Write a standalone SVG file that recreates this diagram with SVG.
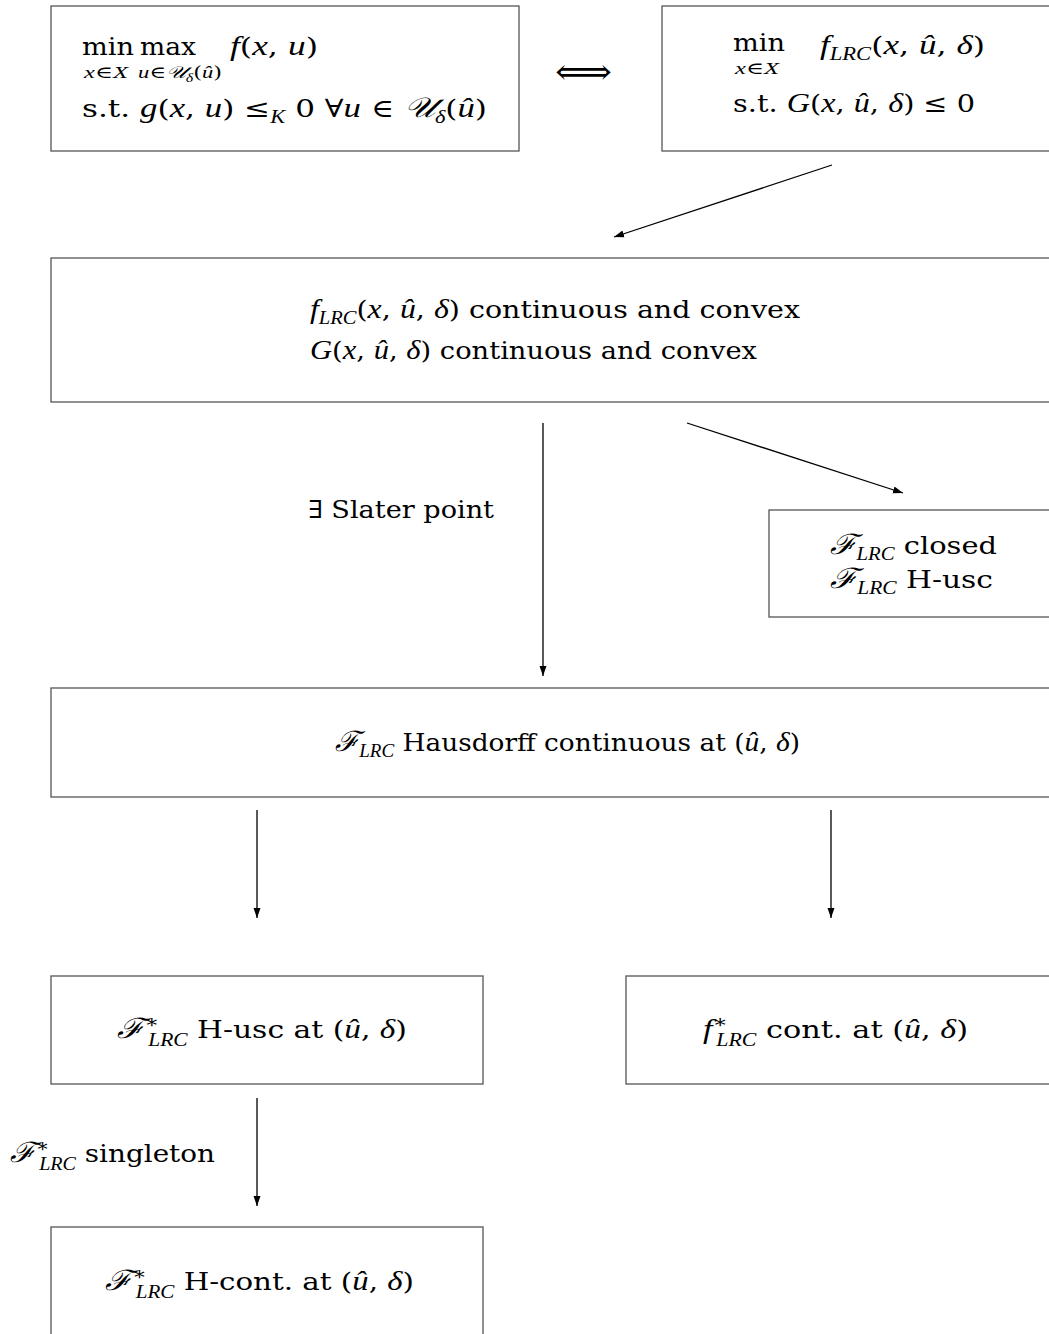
<svg xmlns="http://www.w3.org/2000/svg" width="1049" height="1334" viewBox="0 0 1049 1334">
<style>
.box{fill:#fff;stroke:#555;stroke-width:1.3}
text{font-family:"DejaVu Serif","Liberation Serif",serif;font-size:25px;fill:#000}
.i{font-style:italic;font-family:"Liberation Serif","DejaVu Serif",serif;font-size:28px}
.sub{font-size:18px}
.lim,.lim .i{font-size:17px}
.cn{stroke:#000;stroke-width:1.3;fill:none;marker-end:url(#ah)}
</style>
<defs>
<marker id="ah" viewBox="0 0 10 10" refX="10" refY="5" markerWidth="10" markerHeight="10" markerUnits="userSpaceOnUse" orient="auto">
<path d="M0,1.5 L10,5 L0,8.5 z" fill="#000"/>
</marker>
</defs>
<rect width="1049" height="1334" fill="#fff"/>

<g id="connectors">
<line class="cn" x1="832" y1="165" x2="614" y2="237"/>
<line class="cn" x1="543" y1="423" x2="543" y2="676"/>
<line class="cn" x1="687" y1="423" x2="903" y2="493"/>
<line class="cn" x1="257" y1="810" x2="257" y2="918"/>
<line class="cn" x1="831" y1="810" x2="831" y2="918"/>
<line class="cn" x1="257" y1="1098" x2="257" y2="1206"/>
<text x="555" y="84" style="font-size:36px" textLength="57" lengthAdjust="spacingAndGlyphs">⟺</text>
<text x="308" y="518" textLength="186" lengthAdjust="spacingAndGlyphs">∃ Slater point</text>
<text x="10" y="1162" textLength="205" lengthAdjust="spacingAndGlyphs"><tspan class="i">ℱ</tspan><tspan class="sub" dy="-10">∗</tspan><tspan class="sub i" dx="-9" dy="18">LRC</tspan><tspan dy="-8"> singleton</tspan></text>
</g>

<g id="n1">
<rect class="box" x="51" y="6" width="468" height="145"/>
<text x="82" y="55" textLength="52" lengthAdjust="spacingAndGlyphs">min</text>
<text class="lim" x="84" y="78" textLength="44" lengthAdjust="spacingAndGlyphs"><tspan class="i">x</tspan>∈<tspan class="i">X</tspan></text>
<text x="140" y="55" textLength="56" lengthAdjust="spacingAndGlyphs">max</text>
<text class="lim" x="138" y="78" textLength="84" lengthAdjust="spacingAndGlyphs"><tspan class="i">u</tspan>∈<tspan class="i">𝒰</tspan><tspan class="i" style="font-size:12px" dy="4">δ</tspan><tspan dy="-4">(</tspan><tspan class="i">û</tspan>)</text>
<text x="230" y="55" textLength="88" lengthAdjust="spacingAndGlyphs"><tspan class="i">f</tspan>(<tspan class="i">x</tspan>, <tspan class="i">u</tspan>)</text>
<text x="82" y="117" textLength="405" lengthAdjust="spacingAndGlyphs">s.t.  <tspan class="i">g</tspan>(<tspan class="i">x</tspan>, <tspan class="i">u</tspan>) ≤<tspan class="sub i" dy="6">K</tspan><tspan dy="-6"> 0    ∀</tspan><tspan class="i">u</tspan> ∈ <tspan class="i">𝒰</tspan><tspan class="sub i" dy="6">δ</tspan><tspan dy="-6">(</tspan><tspan class="i">û</tspan>)</text>
</g>

<g id="n2">
<rect class="box" x="662" y="6" width="400" height="145"/>
<text x="733" y="51" textLength="52" lengthAdjust="spacingAndGlyphs">min</text>
<text class="lim" x="735" y="74" textLength="44" lengthAdjust="spacingAndGlyphs"><tspan class="i">x</tspan>∈<tspan class="i">X</tspan></text>
<text x="820" y="54" textLength="165" lengthAdjust="spacingAndGlyphs"><tspan class="i">f</tspan><tspan class="sub i" dy="6">LRC</tspan><tspan dy="-6">(</tspan><tspan class="i">x</tspan>, <tspan class="i">û</tspan>, <tspan class="i">δ</tspan>)</text>
<text x="733" y="112" textLength="242" lengthAdjust="spacingAndGlyphs">s.t.  <tspan class="i">G</tspan>(<tspan class="i">x</tspan>, <tspan class="i">û</tspan>, <tspan class="i">δ</tspan>) ≤ 0</text>
</g>

<g id="n3">
<rect class="box" x="51" y="258" width="1011" height="144"/>
<text x="310" y="318" textLength="490" lengthAdjust="spacingAndGlyphs"><tspan class="i">f</tspan><tspan class="sub i" dy="6">LRC</tspan><tspan dy="-6">(</tspan><tspan class="i">x</tspan>, <tspan class="i">û</tspan>, <tspan class="i">δ</tspan>) continuous and convex</text>
<text x="310" y="359" textLength="447" lengthAdjust="spacingAndGlyphs"><tspan class="i">G</tspan>(<tspan class="i">x</tspan>, <tspan class="i">û</tspan>, <tspan class="i">δ</tspan>) continuous and convex</text>
</g>

<g id="n4">
<rect class="box" x="769" y="510" width="293" height="107"/>
<text x="830" y="554" textLength="167" lengthAdjust="spacingAndGlyphs"><tspan class="i">ℱ</tspan><tspan class="sub i" dy="6">LRC</tspan><tspan dy="-6"> closed</tspan></text>
<text x="830" y="588" textLength="163" lengthAdjust="spacingAndGlyphs"><tspan class="i">ℱ</tspan><tspan class="sub i" dy="6">LRC</tspan><tspan dy="-6"> H-usc</tspan></text>
</g>

<g id="n5">
<rect class="box" x="51" y="688" width="1011" height="109"/>
<text x="335" y="751" textLength="465" lengthAdjust="spacingAndGlyphs"><tspan class="i">ℱ</tspan><tspan class="sub i" dy="6">LRC</tspan><tspan dy="-6"> Hausdorff continuous at (</tspan><tspan class="i">û</tspan>, <tspan class="i">δ</tspan>)</text>
</g>

<g id="n6">
<rect class="box" x="51" y="976" width="432" height="108"/>
<text x="117" y="1038" textLength="290" lengthAdjust="spacingAndGlyphs"><tspan class="i">ℱ</tspan><tspan class="sub" dy="-10">∗</tspan><tspan class="sub i" dx="-9" dy="18">LRC</tspan><tspan dy="-8"> H-usc at (</tspan><tspan class="i">û</tspan>, <tspan class="i">δ</tspan>)</text>
</g>

<g id="n7">
<rect class="box" x="626" y="976" width="436" height="108"/>
<text x="703" y="1038" textLength="265" lengthAdjust="spacingAndGlyphs"><tspan class="i">f</tspan><tspan class="sub" dy="-10">∗</tspan><tspan class="sub i" dx="-9" dy="18">LRC</tspan><tspan dy="-8"> cont. at (</tspan><tspan class="i">û</tspan>, <tspan class="i">δ</tspan>)</text>
</g>

<g id="n8">
<rect class="box" x="51" y="1227" width="432" height="120"/>
<text x="105" y="1290" textLength="309" lengthAdjust="spacingAndGlyphs"><tspan class="i">ℱ</tspan><tspan class="sub" dy="-10">∗</tspan><tspan class="sub i" dx="-9" dy="18">LRC</tspan><tspan dy="-8"> H-cont. at (</tspan><tspan class="i">û</tspan>, <tspan class="i">δ</tspan>)</text>
</g>
</svg>
